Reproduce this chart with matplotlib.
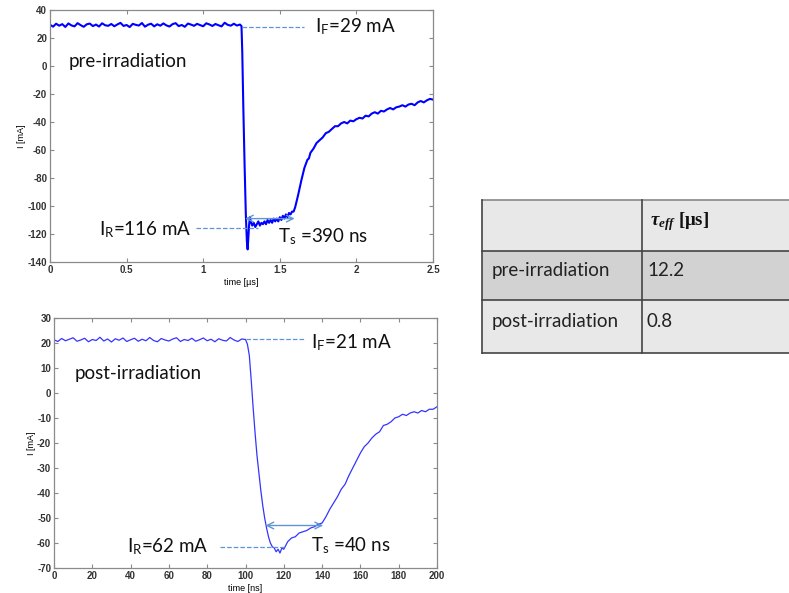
import numpy as np
import matplotlib
matplotlib.use("Agg")
import matplotlib.pyplot as plt
from matplotlib.patches import Rectangle

plt.rcParams['mathtext.fontset'] = 'custom'
plt.rcParams['mathtext.rm'] = 'Lato'
plt.rcParams['mathtext.it'] = 'Liberation Serif:italic:bold'
plt.rcParams['mathtext.bf'] = 'Liberation Serif:bold'
plt.rcParams['axes.unicode_minus'] = False

# ---------------- data ----------------
# pre-irradiation (time in us, current in mA)
pre_flat_I = [29.5, 28.1, 30.2, 28.8, 29.9, 27.9, 30.4, 29.0, 28.3, 30.6, 29.2, 28.0, 29.8,
              30.3, 28.5, 29.6, 28.2, 30.5, 29.1, 28.7, 30.0, 28.4, 29.7, 30.8, 28.6, 29.3,
              27.8, 30.1, 29.4, 28.9, 30.7, 28.1, 29.5, 30.2, 28.3, 29.8, 28.8, 30.4, 29.0,
              28.2, 29.9, 30.6, 28.5, 29.3, 28.0, 30.3, 29.6, 28.7, 30.1, 29.2, 28.4, 30.5,
              29.7, 28.6, 30.0, 29.1, 28.3, 30.9, 29.4, 28.8, 30.2, 28.9, 29.6]
pre_flat_tmax = 1.24
pre_t = [1.25, 1.255, 1.262, 1.27, 1.278, 1.285, 1.29, 1.295, 1.30, 1.305, 1.31, 1.32, 1.33,
         1.34, 1.35, 1.36, 1.37, 1.38, 1.39, 1.40, 1.41, 1.42, 1.43, 1.44, 1.45, 1.46, 1.47,
         1.48, 1.49, 1.50, 1.51, 1.52, 1.53, 1.54, 1.55, 1.56, 1.57, 1.58, 1.59, 1.60, 1.62,
         1.64, 1.66, 1.67, 1.68, 1.69, 1.70, 1.72, 1.74, 1.76, 1.78, 1.80, 1.82, 1.84, 1.86,
         1.88, 1.90, 1.92, 1.94, 1.96, 1.98, 2.00, 2.02, 2.04, 2.06, 2.08, 2.10, 2.12, 2.14,
         2.16, 2.18, 2.20, 2.22, 2.24, 2.26, 2.28, 2.30, 2.32, 2.34, 2.36, 2.38, 2.40, 2.42,
         2.44, 2.46, 2.48, 2.50]
pre_I = [28.5, 10, -30, -70, -105, -125, -131, -122, -113, -108, -111, -114, -112,
         -115, -113, -111, -114, -112, -113, -111, -113, -110, -112, -110, -112, -109, -111,
         -109, -111, -108, -110, -107, -109, -106, -108, -105, -106, -104, -104, -101, -92,
         -82, -73, -70, -67, -66, -62, -59, -55, -53, -51, -48, -47, -45, -43,
         -43, -41, -40, -41, -39, -39.5, -38, -37, -37.5, -35.5, -36, -34, -33, -34,
         -32, -32.5, -31, -30, -31, -29.5, -29, -28, -29, -27.5, -27, -28, -26, -25,
         -26, -24.5, -23.5, -24]

# post-irradiation (time in ns, current in mA)
post_flat_I = [21.3, 20.6, 21.8, 20.9, 21.5, 22.1, 20.7, 21.2, 21.9, 20.5, 21.4, 21.0, 22.3,
               20.8, 21.6, 20.4, 21.7, 21.1, 22.0, 20.6, 21.3, 21.9, 20.7, 21.5, 20.9, 22.2,
               21.0, 20.5, 21.8, 21.2, 20.8, 21.6, 22.1, 20.6, 21.4, 21.0, 21.9, 20.7, 21.3,
               22.0, 20.9, 21.5, 20.5, 21.7, 21.1, 20.8, 22.2, 21.2, 20.6, 21.6, 21.4]
post_flat_tmax = 100
post_t = [101, 102, 103, 104, 105, 106, 107, 108, 109, 110, 111, 112, 113, 114, 115, 116,
          117, 118, 119, 120, 121, 122, 124, 126, 128, 130, 132, 134, 136, 138, 140, 142,
          144, 146, 148, 150, 152, 154, 156, 158, 160, 162, 164, 166, 168, 170, 172, 174,
          176, 178, 180, 182, 184, 186, 188, 190, 192, 194, 196, 198, 200]
post_I = [19.5, 15.0, 5.0, -6.0, -16.0, -25.0, -32.0, -39.0, -45.0, -50.0, -54.0, -57.5,
          -60.0, -61.5, -62.0, -63.5, -62.5, -64.0, -62.0, -62.5, -61.0, -59.5, -58.0,
          -57.5, -56.0, -55.5, -55.0, -54.0, -53.5, -52.5, -52.0, -49.5, -46.5, -44.0,
          -41.5, -38.5, -36.5, -33.0, -30.0, -27.0, -24.0, -21.5, -20.0, -18.0, -16.5,
          -15.5, -13.0, -12.5, -11.5, -10.0, -9.5, -8.5, -9.0, -8.0, -7.5, -8.0, -7.0,
          -7.5, -6.5, -6.5, -5.5]

pre_xticks = [0, 0.5, 1, 1.5, 2, 2.5]
pre_xticklabels = ['0', '0.5', '1', '1.5', '2', '2.5']
pre_yticks = [-140, -120, -100, -80, -60, -40, -20, 0, 20, 40]
post_xticks = [0, 20, 40, 60, 80, 100, 120, 140, 160, 180, 200]
post_yticks = [-70, -60, -50, -40, -30, -20, -10, 0, 10, 20, 30]

table_rows = ['pre-irradiation', 'post-irradiation']
table_vals = ['12.2', '0.8']

# ---------------- figure ----------------
W, H = 789, 593
fig = plt.figure(figsize=(W / 100, H / 100), dpi=100)

def px_axes(l, t, r, b):
    return fig.add_axes([l / W, 1 - b / H, (r - l) / W, (b - t) / H])

LINE_BLUE = '#0000ff'
ANN = '#5f95d4'
TXT = dict(family='Lato', fontsize=13.5, color='#111111')
spine_c = '#8a8a8a'

def style(ax):
    for s in ax.spines.values():
        s.set_color(spine_c)
        s.set_linewidth(0.9)
    ax.tick_params(direction='in', top=True, right=True, length=3, width=0.8,
                   color=spine_c, labelsize=7, pad=2)
    for lab in ax.get_xticklabels() + ax.get_yticklabels():
        lab.set_family('Liberation Sans')
        lab.set_fontweight('bold')
        lab.set_color('#333333')

# top axes
ax1 = px_axes(50, 10, 433, 262)
t1 = np.concatenate([np.linspace(0, pre_flat_tmax, len(pre_flat_I)), pre_t])
i1 = np.concatenate([pre_flat_I, pre_I])
ax1.plot(t1, i1, color=LINE_BLUE, lw=1.5)
ax1.set_xlim(0, 2.5)
ax1.set_ylim(-140, 40)
ax1.set_xticks(pre_xticks)
ax1.set_xticklabels(pre_xticklabels)
ax1.set_yticks(pre_yticks)
ax1.set_xlabel('time [µs]', fontsize=6.5, family='Liberation Sans', labelpad=2)
ax1.set_ylabel('I [mA]', fontsize=6.5, family='Liberation Sans', labelpad=1)
style(ax1)
ax1.plot([1.25, 1.66], [28, 28], ls='--', color=ANN, lw=0.9)
ax1.text(1.73, 28, r'I$_{\rm F}$=29 mA', va='center', ha='left', **TXT)
ax1.text(0.12, 3.5, 'pre-irradiation', va='center', ha='left', **TXT)
ax1.plot([0.95, 1.36], [-116, -116], ls='--', color=ANN, lw=0.9)
ax1.text(0.32, -117, r'I$_{\rm R}$=116 mA', va='center', ha='left', **TXT)
ax1.annotate('', xy=(1.255, -109), xytext=(1.615, -109),
             arrowprops=dict(arrowstyle='<->', color=ANN, lw=1.0, mutation_scale=12))
ax1.text(1.49, -122, r'T$_{\rm s}$ =390 ns', va='center', ha='left', **TXT)

# bottom axes
ax2 = px_axes(54, 318, 437, 568)
t2 = np.concatenate([np.linspace(0, post_flat_tmax, len(post_flat_I)), post_t])
i2 = np.concatenate([post_flat_I, post_I])
ax2.plot(t2, i2, color='#3434ff', lw=0.9)
ax2.set_xlim(0, 200)
ax2.set_ylim(-70, 30)
ax2.set_xticks(post_xticks)
ax2.set_yticks(post_yticks)
ax2.set_xlabel('time [ns]', fontsize=6.5, family='Liberation Sans', labelpad=2)
ax2.set_ylabel('I [mA]', fontsize=6.5, family='Liberation Sans', labelpad=1)
style(ax2)
ax2.plot([100, 131], [21.5, 21.5], ls='--', color=ANN, lw=0.9)
ax2.text(134, 20, r'I$_{\rm F}$=21 mA', va='center', ha='left', **TXT)
ax2.text(11, 8, 'post-irradiation', va='center', ha='left', **TXT)
ax2.plot([86.5, 120], [-61.5, -61.5], ls='--', color=ANN, lw=0.9)
ax2.text(38, -61.5, r'I$_{\rm R}$=62 mA', va='center', ha='left', **TXT)
ax2.annotate('', xy=(109, -53), xytext=(142, -53),
             arrowprops=dict(arrowstyle='<->', color=ANN, lw=1.0, mutation_scale=12))
ax2.text(134, -61, r'T$_{\rm s}$ =40 ns', va='center', ha='left', **TXT)

# table (axes in pixel coordinates)
axt = fig.add_axes([0, 0, 1, 1], zorder=-1)
axt.set_xlim(0, W)
axt.set_ylim(H, 0)
axt.axis('off')
row_edges = [200, 251, 300, 353]
col_edges = [482, 642, 800]
fills = ['#e8e8e8', '#d2d2d2', '#e8e8e8']
for r in range(3):
    axt.add_patch(Rectangle((col_edges[0], row_edges[r]), col_edges[2] - col_edges[0],
                            row_edges[r + 1] - row_edges[r], facecolor=fills[r],
                            edgecolor='none'))
for y in row_edges:
    axt.plot([col_edges[0], col_edges[2]], [y, y], color='#444444' if y != 200 else '#888888',
             lw=1.2)
for x in col_edges[:2]:
    axt.plot([x, x], [row_edges[0], row_edges[-1]], color='#444444', lw=1.2)
axt.text(650, 222, r'$\mathit{\tau}_{\mathit{eff}}$ [μs]', family='Liberation Serif',
         fontweight='bold', fontsize=13.5, va='center', ha='left', color='#111111')
for k, (name, val) in enumerate(zip(table_rows, table_vals)):
    yc = (row_edges[k + 1] + row_edges[k + 2]) / 2 - 5
    axt.text(492, yc, name, va='center', ha='left', family='Lato', fontsize=13.5,
             color='#222222')
    axt.text(647, yc, val, va='center', ha='left', family='Lato', fontsize=13.5,
             color='#222222')

fig.savefig('out.png', dpi=100)
